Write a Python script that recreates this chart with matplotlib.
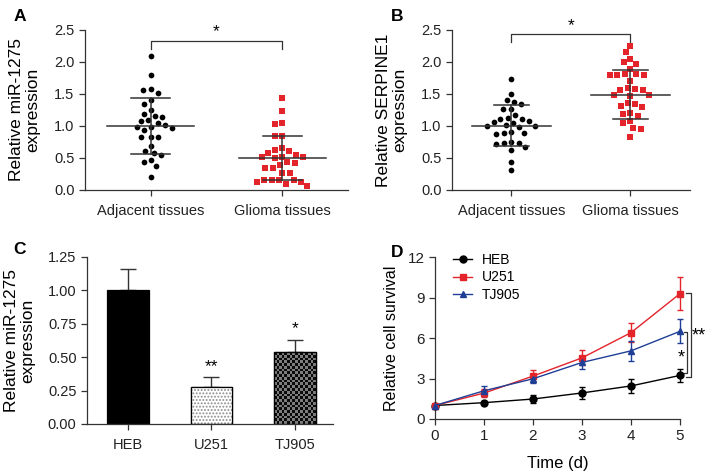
import numpy as np
import matplotlib
matplotlib.use("Agg")
import matplotlib.pyplot as plt
from matplotlib.lines import Line2D

plt.rcParams['font.family'] = ['Liberation Sans', 'DejaVu Sans']
plt.rcParams['axes.linewidth'] = 0.9
plt.rcParams['hatch.linewidth'] = 0.9

# ---------------- data ----------------
groups_AB = ["Adjacent tissues", "Glioma tissues"]

a_adjacent = [2.09, 1.79, 1.57, 1.56, 1.52, 1.41, 1.35, 1.25, 1.19, 1.14, 1.15, 1.09,
              1.08, 1.04, 1.01, 0.98, 0.97, 0.98, 0.93, 0.82, 0.82, 0.83, 0.69, 0.61,
              0.58, 0.55, 0.47, 0.43, 0.38, 0.21]
a_glioma = [1.44, 1.23, 1.03, 1.05, 0.84, 0.84, 0.65, 0.61, 0.63, 0.57, 0.52, 0.51,
            0.50, 0.51, 0.54, 0.42, 0.39, 0.35, 0.35, 0.43, 0.27, 0.26, 0.16, 0.13,
            0.16, 0.16, 0.13, 0.15, 0.06, 0.09]
a_means = [1.00, 0.505]
a_sds = [0.44, 0.345]

b_adjacent = [1.73, 1.50, 1.41, 1.35, 1.38, 1.27, 1.27, 1.17, 1.13, 1.11, 1.08, 1.11,
              1.06, 1.04, 1.00, 1.01, 1.00, 0.98, 0.89, 0.89, 0.88, 0.91, 0.75, 0.72,
              0.74, 0.74, 0.63, 0.67, 0.44, 0.31]
b_glioma = [2.25, 2.15, 2.05, 2.00, 1.97, 1.80, 1.80, 1.81, 1.80, 1.81, 1.89, 1.71,
            1.58, 1.56, 1.60, 1.56, 1.47, 1.49, 1.49, 1.29, 1.31, 1.34, 1.36, 1.20,
            1.19, 1.16, 1.08, 1.04, 0.97, 0.96, 0.83]
b_means = [1.00, 1.49]
b_sds = [0.32, 0.38]

c_cells = ["HEB", "U251", "TJ905"]
c_values = [1.00, 0.28, 0.535]
c_errors = [0.16, 0.07, 0.095]
c_stars = ["", "**", "*"]

d_days = [0, 1, 2, 3, 4, 5]
d_heb = [1.0, 1.21, 1.48, 1.93, 2.45, 3.23]
d_heb_err = [0.05, 0.12, 0.33, 0.42, 0.50, 0.50]
d_u251 = [1.0, 1.92, 3.18, 4.53, 6.40, 9.29]
d_u251_err = [0.05, 0.30, 0.45, 0.55, 0.68, 1.20]
d_tj905 = [1.0, 2.09, 2.98, 4.19, 5.05, 6.50]
d_tj905_err = [0.05, 0.37, 0.28, 0.50, 0.75, 0.90]

RED = '#e3242b'
BLUE = '#1f3f96'
LINEC = '#333333'

fig = plt.figure(figsize=(7.09, 4.72), dpi=100)


def swarm_offsets(values, diam_px, ypx, xpx):
    """Simple beeswarm layout: returns x offsets (data units)."""
    order = np.argsort(-np.asarray(values))
    placed = []
    offs = np.zeros(len(values))
    for i in order:
        y = values[i] * ypx
        cands = [0.0]
        for (px, py) in placed:
            dy = abs(py - y)
            if dy < diam_px:
                dx = np.sqrt(diam_px ** 2 - dy ** 2)
                cands += [px + dx, px - dx]
        cands = sorted(cands, key=lambda c: (abs(c), c))
        for c in cands:
            ok = all((c - px) ** 2 + (y - py) ** 2 >= diam_px ** 2 - 1e-6 for (px, py) in placed)
            if ok:
                placed.append((c, y))
                offs[i] = c / xpx
                break
    return offs


def style_axes(ax):
    for s in ['top', 'right']:
        ax.spines[s].set_visible(False)
    ax.spines['left'].set_color(LINEC)
    ax.spines['bottom'].set_color(LINEC)
    ax.tick_params(axis='both', direction='out', length=4, width=0.9, color=LINEC,
                   labelsize=10.5, colors='#222222')


def scatter_panel(ax, g1, g2, means, sds, ylabel, label, br_y, br_drop, xpx):
    ypx = 64.0  # pixels per unit
    for k, (vals, mk, col) in enumerate([(g1, 'o', 'black'), (g2, 's', RED)]):
        vals = np.asarray(vals)
        offs = swarm_offsets(vals, 7.6, ypx, xpx)
        ax.scatter(k + offs, vals, marker=mk, s=17 if mk == 'o' else 16, color=col,
                   linewidths=0, zorder=3, clip_on=False)
        m, sd = means[k], sds[k]
        ax.plot([k - 0.33, k + 0.33], [m, m], color=LINEC, lw=1.1, zorder=4)
        ax.plot([k - 0.15, k + 0.15], [m - sd, m - sd], color=LINEC, lw=1.1, zorder=4)
        ax.plot([k - 0.15, k + 0.15], [m + sd, m + sd], color=LINEC, lw=1.1, zorder=4)
        ax.plot([k, k], [m - sd, m + sd], color=LINEC, lw=1.1, zorder=4)
    ax.set_xlim(-0.5, 1.5)
    ax.set_ylim(0, 2.5)
    ax.set_yticks([0, 0.5, 1.0, 1.5, 2.0, 2.5])
    ax.set_yticklabels(['0.0', '0.5', '1.0', '1.5', '2.0', '2.5'])
    ax.set_xticks([0, 1])
    ax.set_xticklabels(groups_AB, fontsize=9)
    ax.tick_params(axis='x', pad=6)
    style_axes(ax)
    ax.set_ylabel(ylabel, fontsize=12.5, linespacing=1.1, labelpad=10)
    # significance bracket
    ax.plot([0, 0, 1, 1], [br_y - br_drop, br_y, br_y, br_y - br_drop], color=LINEC,
            lw=0.9, clip_on=False)
    ax.text(0.5, br_y + 0.02, '*', ha='center', va='bottom', fontsize=12.5, clip_on=False)
    return ax.text(0, 1.13, label, transform=ax.transAxes, fontsize=12.5,
                   fontweight='bold', ha='left', va='top')


# Panel A
axA = fig.add_axes([0.1199, 0.5975, 0.371, 0.339])
tA = scatter_panel(axA, a_adjacent, a_glioma, a_means, a_sds,
                   'Relative miR-1275\nexpression', 'A', 2.33, 0.13, 131.5)
tA.set_x(-0.27)

# Panel B
axB = fig.add_axes([0.6375, 0.5975, 0.3357, 0.339])
tB = scatter_panel(axB, b_adjacent, b_glioma, b_means, b_sds,
                   'Relative SERPINE1\nexpression', 'B', 2.43, 0.12, 119.0)
tB.set_x(-0.255)

# Panel C
axC = fig.add_axes([0.1227, 0.1017, 0.347, 0.354])
xc = np.arange(len(c_cells))
bars = axC.bar(xc, c_values, width=0.5, color=['black', 'white', '#7a7a7a'],
               edgecolor='black', linewidth=0.9, zorder=2)
# dotted fill for U251
axC.bar(xc[1], c_values[1], width=0.5, color='white', edgecolor='#8c8c8c',
        hatch='.....', linewidth=0, zorder=2.5)
axC.bar(xc[1], c_values[1], width=0.5, fill=False, edgecolor='black', linewidth=0.9, zorder=3)
# checkerboard fill for TJ905
b = bars[2]
nx, ny = 16, 26
chk = (np.add.outer(np.arange(ny), np.arange(nx)) % 2).astype(float)
axC.imshow(chk, cmap=matplotlib.colors.ListedColormap(['#7d7d7d', '#0a0a0a']),
           extent=(b.get_x(), b.get_x() + b.get_width(), 0, b.get_height()),
           aspect='auto', interpolation='nearest', zorder=2.5, origin='lower')
axC.bar(xc[2], c_values[2], width=0.5, fill=False, edgecolor='black', linewidth=0.9, zorder=3)
axC.errorbar(xc, c_values, yerr=[np.zeros(3), c_errors], fmt='none', ecolor=LINEC,
             elinewidth=1.0, capsize=6, capthick=1.0, zorder=1)
for x, v, e, s in zip(xc, c_values, c_errors, c_stars):
    if s:
        axC.text(x, v + e + 0.025, s, ha='center', va='bottom', fontsize=12.5)
axC.set_xlim(-0.49, 2.455)
axC.set_ylim(0, 1.25)
axC.set_yticks([0, 0.25, 0.5, 0.75, 1.0, 1.25])
axC.set_yticklabels(['0.00', '0.25', '0.50', '0.75', '1.00', '1.25'])
axC.set_xticks(xc)
axC.set_xticklabels(c_cells, fontsize=10.5)
style_axes(axC)
axC.tick_params(axis='x', pad=6)
axC.set_ylabel('Relative miR-1275\nexpression', fontsize=12.5, linespacing=1.1, labelpad=9)
axC.text(-0.30, 1.09, 'C', transform=axC.transAxes, fontsize=12.5, fontweight='bold',
         ha='left', va='top')

# Panel D
axD = fig.add_axes([0.6135, 0.1123, 0.3456, 0.343])
handles = []
for yv, ye, col, mk, lab in [(d_heb, d_heb_err, 'black', 'o', 'HEB'),
                             (d_u251, d_u251_err, RED, 's', 'U251'),
                             (d_tj905, d_tj905_err, BLUE, '^', 'TJ905')]:
    axD.errorbar(d_days, yv, yerr=ye, color=col, marker=mk, markersize=5, lw=1.0,
                 elinewidth=1.0, capsize=2.5, capthick=1.0, clip_on=False, zorder=3)
    handles.append(Line2D([], [], color=col, marker=mk, markersize=5, lw=1.0, label=lab))
axD.set_xlim(0, 5)
axD.set_ylim(0, 12)
axD.set_yticks([0, 3, 6, 9, 12])
axD.set_xticks(d_days)
style_axes(axD)
axD.tick_params(labelsize=11)
axD.set_xlabel('Time (d)', fontsize=12, labelpad=9)
axD.set_ylabel('Relative cell survival', fontsize=11.5, labelpad=6)
axD.legend(handles=handles, loc='upper left', bbox_to_anchor=(0.05, 1.06), frameon=False,
           fontsize=10, handlelength=1.4, handletextpad=0.7, labelspacing=0.25,
           borderaxespad=0)
# significance brackets
axD.plot([5.12, 5.22, 5.22, 5.12], [9.33, 9.33, 3.1, 3.1], color=LINEC, lw=0.9, clip_on=False)
axD.plot([5.08, 5.14, 5.14, 5.08], [6.45, 6.45, 3.4, 3.4], color=LINEC, lw=0.9, clip_on=False)
axD.text(5.39, 5.5, '**', ha='center', va='bottom', fontsize=13, clip_on=False)
axD.text(5.02, 3.9, '*', ha='center', va='bottom', fontsize=13, clip_on=False)
axD.text(-0.18, 1.074, 'D', transform=axD.transAxes, fontsize=12.5, fontweight='bold',
         ha='left', va='top')

fig.savefig('out.png', dpi=100)
